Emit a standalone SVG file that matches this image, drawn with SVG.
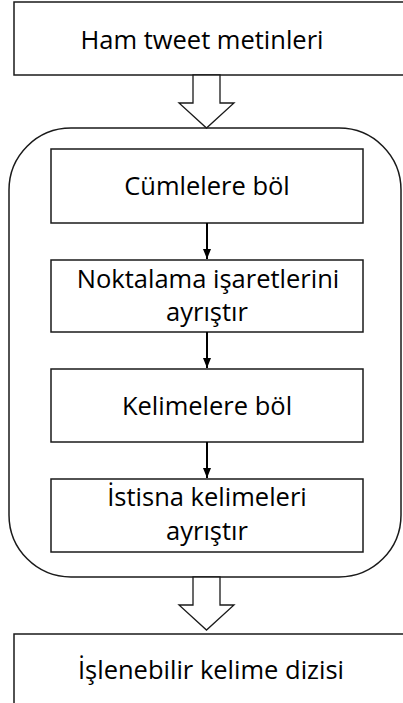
<svg xmlns="http://www.w3.org/2000/svg" width="403" height="703" viewBox="0 0 403 703">
  <defs>
    <marker id="head" markerWidth="10" markerHeight="8" refX="10" refY="4" orient="auto" markerUnits="userSpaceOnUse" viewBox="0 0 10 8">
      <path d="M0,0 L10,4 L0,8 Z" fill="#000"/>
    </marker>
  </defs>
  <style>
    .box { fill: #fff; stroke: #1a1a1a; stroke-width: 1.5; }
    .frame { fill: #fff; stroke: #1a1a1a; stroke-width: 1.5; }
    .hollow { fill: #fff; stroke: #1a1a1a; stroke-width: 1.3; stroke-linejoin: miter; }
    .lbl { font-family: "Open Sans", "Liberation Sans", sans-serif; font-size: 25.5px; fill: #000; text-anchor: middle; }
    .link { stroke: #000; stroke-width: 2; fill: none; }
  </style>

  <!-- input box -->
  <g id="input">
    <rect class="box" x="14" y="2" width="395" height="73"/>
    <text class="lbl" x="202" y="49">Ham tweet metinleri</text>
  </g>

  <!-- processing frame -->
  <g id="pipeline">
    <rect class="frame" x="9" y="128" width="392" height="449" rx="62" ry="62"/>
  </g>

  <g id="split-sentences">
    <rect class="box" x="51" y="149" width="312" height="74"/>
    <text class="lbl" x="207" y="195">Cümlelere böl</text>
  </g>

  <g id="split-punctuation">
    <rect class="box" x="51" y="260" width="312" height="72"/>
    <text class="lbl" x="208" y="288">Noktalama işaretlerini</text>
    <text class="lbl" x="207" y="321">ayrıştır</text>
  </g>

  <g id="split-words">
    <rect class="box" x="51" y="369" width="312" height="73"/>
    <text class="lbl" x="207" y="415">Kelimelere böl</text>
  </g>

  <g id="split-exceptions">
    <rect class="box" x="51" y="479" width="312" height="73"/>
    <text class="lbl" x="207" y="506">İstisna kelimeleri</text>
    <text class="lbl" x="207" y="540">ayrıştır</text>
  </g>

  <!-- output box -->
  <g id="output">
    <rect class="box" x="14" y="634" width="395" height="80"/>
    <text class="lbl" x="211" y="679">İşlenebilir kelime dizisi</text>
  </g>

  <!-- connectors -->
  <g id="connectors">
    <path class="hollow" d="M193,75 L220,75 L220,103 L234,103 L206.5,128 L179,103 L193,103 Z"/>
    <path class="hollow" d="M193,577 L220,577 L220,605 L234,605 L206.5,630 L179,605 L193,605 Z"/>
    <line class="link" x1="207" y1="223" x2="207" y2="259" marker-end="url(#head)"/>
    <line class="link" x1="207" y1="332" x2="207" y2="368" marker-end="url(#head)"/>
    <line class="link" x1="207" y1="442" x2="207" y2="478" marker-end="url(#head)"/>
  </g>
</svg>
